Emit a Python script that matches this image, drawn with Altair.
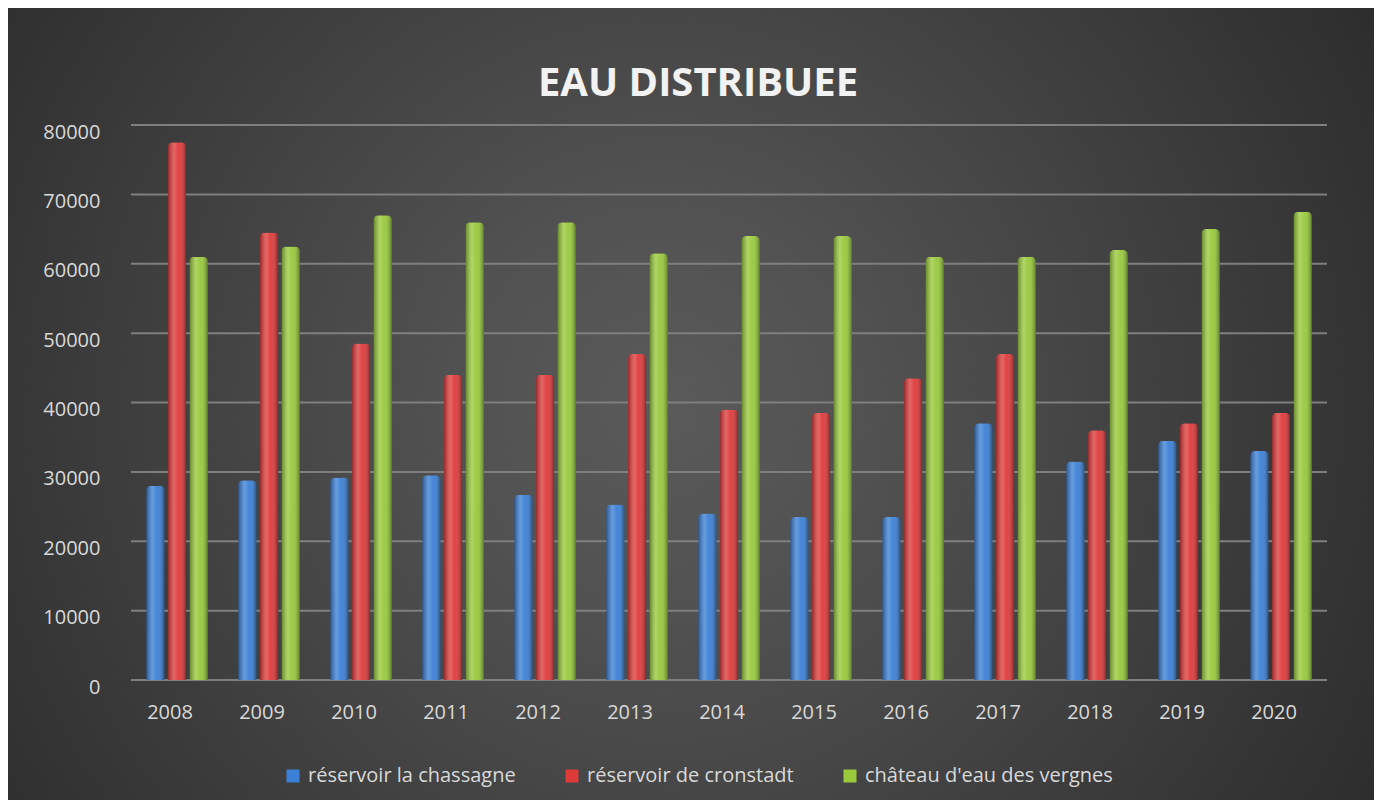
import altair as alt
import pandas as pd

years = ["2008", "2009", "2010", "2011", "2012", "2013", "2014",
         "2015", "2016", "2017", "2018", "2019", "2020"]
series_names = ["réservoir la chassagne", "réservoir de cronstadt", "château d'eau des vergnes"]
chassagne = [28000, 28800, 29200, 29500, 26700, 25300, 24000, 23500, 23500, 37000, 31500, 34500, 33000]
cronstadt = [77500, 64500, 48500, 44000, 44000, 47000, 39000, 38500, 43500, 47000, 36000, 37000, 38500]
vergnes = [61000, 62500, 67000, 66000, 66000, 61500, 64000, 64000, 61000, 61000, 62000, 65000, 67500]
colors = ["#3b80d6", "#de3a3a", "#98c93c"]
y_ticks = [0, 10000, 20000, 30000, 40000, 50000, 60000, 70000, 80000]
title_text = "EAU DISTRIBUEE"

rows = []
for name, vals in zip(series_names, [chassagne, cronstadt, vergnes]):
    for yr, v in zip(years, vals):
        rows.append({"annee": yr, "serie": name, "valeur": v})
df = pd.DataFrame(rows)

W, H = 1196, 555
FONT = "Open Sans"

bg = alt.Chart(pd.DataFrame({"k": [1]})).mark_rect(
    fill={
        "gradient": "radial",
        "x1": 0.48, "y1": 0.5, "r1": 0,
        "x2": 0.48, "y2": 0.5, "r2": 0.72,
        "stops": [
            {"offset": 0, "color": "#5a5a5a"},
            {"offset": 0.2, "color": "#525252"},
            {"offset": 1, "color": "#232323"},
        ],
    }
).encode(
    x=alt.value(-123), x2=alt.value(W + 47),
    y=alt.value(-117), y2=alt.value(H + 120),
)

x_enc = alt.X("annee:N", sort=years,
              scale=alt.Scale(paddingInner=0.33, paddingOuter=0.165),
              axis=alt.Axis(labelAngle=0, labelFontSize=20, labelColor="#d9d9d9",
                            labelFont=FONT, labelPadding=22, labelOffset=-7,
                            domain=False, ticks=False, grid=False, title=None,
                            zindex=1))
y_enc = alt.Y("valeur:Q",
              scale=alt.Scale(domain=[0, 80000], nice=False),
              axis=alt.Axis(values=y_ticks, format="d", labelFontSize=20,
                            labelColor="#d9d9d9", labelFont=FONT, labelPadding=31,
                            labelOffset=7, domain=False, ticks=False, grid=False,
                            title=None, zindex=1))
xo_enc = alt.XOffset("serie:N", sort=series_names,
                     scale=alt.Scale(paddingInner=0.15, paddingOuter=0))

grid = alt.Chart(pd.DataFrame({"valeur": y_ticks})).mark_rule(
    color="#7f7f7f", strokeWidth=2
).encode(y=y_enc)

bars = alt.Chart(df).mark_bar(cornerRadiusEnd=5).encode(
    x=x_enc, y=y_enc, xOffset=xo_enc,
    color=alt.Color("serie:N", sort=series_names,
                    scale=alt.Scale(domain=series_names, range=colors),
                    legend=alt.Legend(orient="none", direction="horizontal",
                                      legendX=152, legendY=641, title=None,
                                      symbolType="square", symbolSize=169,
                                      symbolStrokeWidth=0, labelFontSize=20,
                                      labelColor="#d9d9d9", labelFont=FONT,
                                      labelOffset=5, columnPadding=46,
                                      labelLimit=0, zindex=1)),
)

shade = alt.Chart(df).mark_bar(
    cornerRadiusEnd=5,
    fill={
        "gradient": "linear", "x1": 0, "y1": 0, "x2": 1, "y2": 0,
        "stops": [
            {"offset": 0, "color": "rgba(0,0,0,0.35)"},
            {"offset": 0.35, "color": "rgba(255,255,255,0.22)"},
            {"offset": 0.6, "color": "rgba(255,255,255,0.04)"},
            {"offset": 1, "color": "rgba(0,0,0,0.38)"},
        ],
    },
).encode(x=x_enc, y=y_enc, xOffset=xo_enc)

title = alt.Chart(pd.DataFrame({"t": [title_text]})).mark_text(
    font=FONT, fontSize=40, fontWeight="bold", color="#f2f2f2",
    align="center", baseline="middle",
).encode(text="t:N", x=alt.value(567), y=alt.value(-41))

chart = alt.layer(bg, grid, bars, shade, title).properties(
    width=W, height=H, padding=0, background="#232323"
).configure_view(stroke=None)

chart.save("out.html", embed_options={"renderer": "svg", "actions": False})
